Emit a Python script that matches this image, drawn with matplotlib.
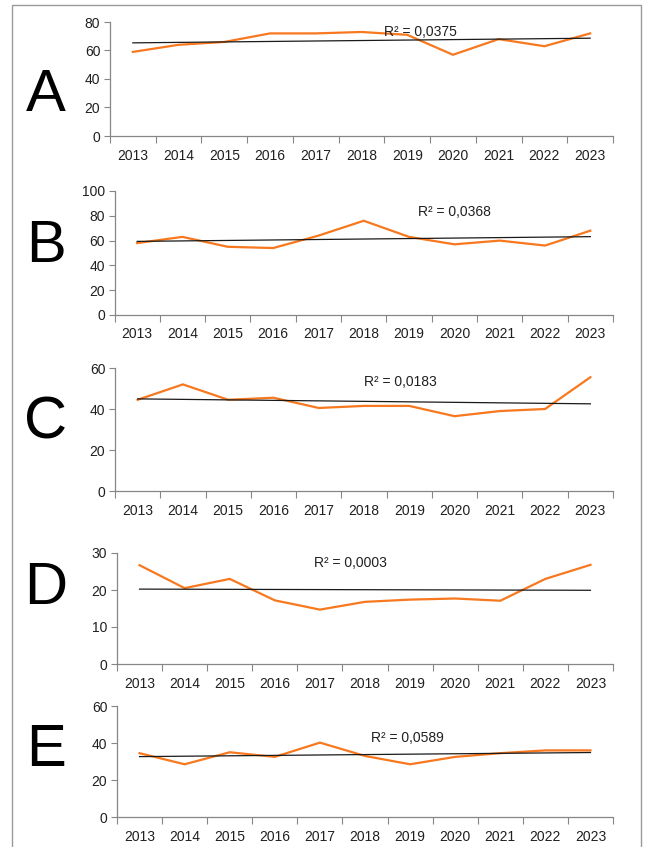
import matplotlib.pyplot as plt
import matplotlib.patches as patches
import numpy as np

plt.rcParams['font.family'] = ['Liberation Sans', 'DejaVu Sans']

years = ['2013', '2014', '2015', '2016', '2017', '2018', '2019', '2020', '2021', '2022', '2023']

# values
vals_a = [59, 64, 66, 72, 72, 73, 71, 57, 68, 63, 72]
vals_b = [58, 63, 55, 54, 64, 76, 63, 57, 60, 56, 68]
vals_c = [44.5, 52, 44.5, 45.5, 40.5, 41.5, 41.5, 36.5, 39, 40, 55.5]
vals_d = [26.7, 20.5, 23, 17.2, 14.7, 16.8, 17.4, 17.7, 17.1, 23, 26.8]
vals_e = [34.5, 28.5, 35, 32.5, 40.2, 33, 28.5, 32.5, 34.5, 36, 36]

letters = ['A', 'B', 'C', 'D', 'E']
r2_labels = ['R² = 0,0375', 'R² = 0,0368', 'R² = 0,0183', 'R² = 0,0003', 'R² = 0,0589']
yticks = [[0, 20, 40, 60, 80], [0, 20, 40, 60, 80, 100], [0, 20, 40, 60],
          [0, 10, 20, 30], [0, 20, 40, 60]]
series = [vals_a, vals_b, vals_c, vals_d, vals_e]

# layout in pixels: left, right, top, bottom of each plot area
W, H = 650, 847
boxes = [(110, 613, 22, 136), (114.5, 613, 191, 315), (115, 613, 368, 491),
         (117, 613, 553, 664), (117, 613, 706, 817)]
r2_pos = [(6.28, 73), (7.0, 83), (5.8, 53), (4.67, 27.3), (5.95, 42.7)]
letter_base = [111, 262, 438, 604, 766]

fig = plt.figure(figsize=(W / 100, H / 100), dpi=100)

# outer frame
fig.patches.append(patches.Rectangle((12 / W, -0.01), (641 - 12) / W, 1 - 5 / H + 0.01,
                                     transform=fig.transFigure, fill=False,
                                     edgecolor='#9a9a9a', linewidth=1.0))

x = np.arange(len(years))
for i in range(5):
    l, r, t, b = boxes[i]
    ax = fig.add_axes([l / W, 1 - b / H, (r - l) / W, (b - t) / H])
    y = series[i]
    ax.plot(x, y, color='#F7781E', linewidth=1.6, solid_joinstyle='miter', zorder=3)
    k, c = np.polyfit(x, y, 1)
    ax.plot(x, k * x + c, color='#1a1a1a', linewidth=0.9, zorder=4)

    ax.set_xlim(-0.5, len(years) - 0.5)
    ax.set_ylim(yticks[i][0], yticks[i][-1])
    ax.set_yticks(yticks[i])
    ax.set_xticks(np.arange(-0.5, len(years), 1.0))
    ax.set_xticklabels([])
    ax.set_xticks(x, minor=True)
    ax.set_xticklabels(years, minor=True)
    ax.tick_params(axis='x', which='minor', length=0, pad=9, labelsize=10, colors='#202020')
    ax.tick_params(axis='x', which='major', length=5, color='#868686')
    ax.tick_params(axis='y', length=4, color='#868686', labelsize=10, labelcolor='#202020', pad=3)
    for s in ['top', 'right']:
        ax.spines[s].set_visible(False)
    for s in ['left', 'bottom']:
        ax.spines[s].set_color('#868686')
        ax.spines[s].set_linewidth(0.9)
    ax.patch.set_alpha(0)

    ax.text(r2_pos[i][0], r2_pos[i][1], r2_labels[i], ha='center', va='center',
            fontsize=10, color='#202020', zorder=5)

    fig.text(46 / W, 1 - letter_base[i] / H, letters[i], ha='center', va='baseline',
             fontsize=43, color='black')

fig.savefig('out.png', dpi=100, facecolor='white')
